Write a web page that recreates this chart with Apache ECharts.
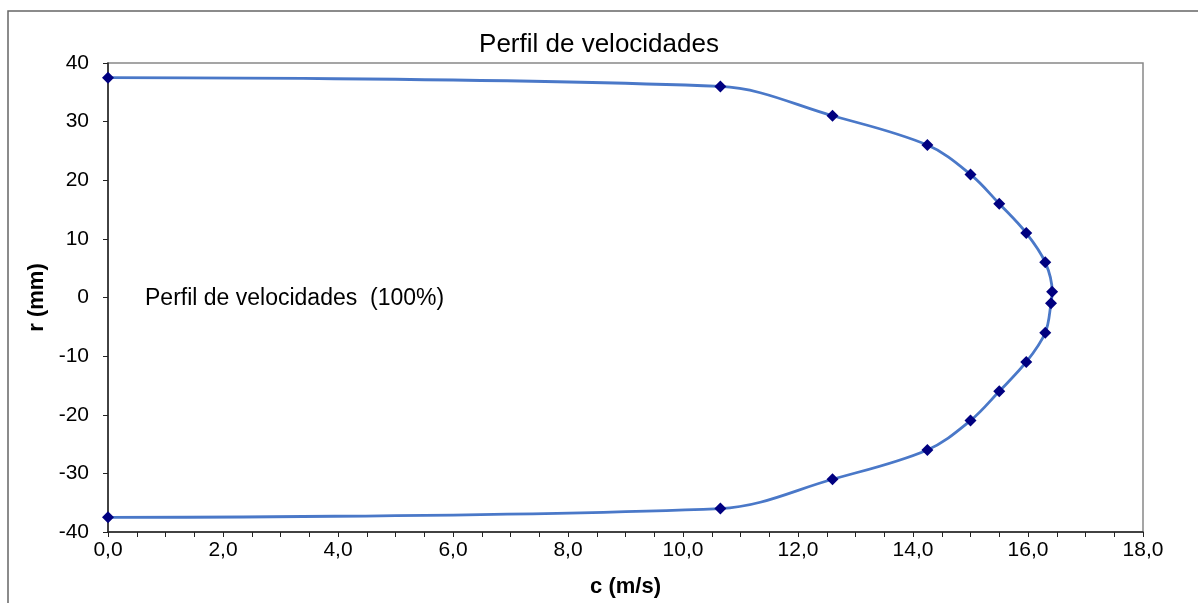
<!DOCTYPE html>
<html>
<head>
<meta charset="utf-8">
<script src="https://cdn.jsdelivr.net/npm/echarts@6/dist/echarts.min.js"></script>
<style>
  html, body { margin: 0; padding: 0; background: #fff; }
  #chart { width: 1198px; height: 603px; }
</style>
</head>
<body>
<div id="chart"></div>
<script>
// velocity profile
var cValues = [0.0, 10.65, 12.6, 14.25, 15.0, 15.5, 15.97, 16.3, 16.42, 16.4, 16.3, 15.97, 15.5, 15.0, 14.25, 12.6, 10.65, 0.0];
var rValues = [37.5, 36, 31, 26, 21, 16, 11, 6, 1, -1, -6, -11, -16, -21, -26, -31, -36, -37.5];
var xTicks = [0, 2, 4, 6, 8, 10, 12, 14, 16, 18];
var yTicks = [-40, -30, -20, -10, 0, 10, 20, 30, 40];

var font = 'Liberation Sans, Arial, sans-serif';
var chart = echarts.init(document.getElementById('chart'));

var points = cValues.map(function (c, i) { return [c, rValues[i]]; });

var option = {
  animation: false,
  title: {
    text: 'Perfil de velocidades',
    left: 'center',
    top: 27,
    textStyle: { fontFamily: font, fontSize: 26, fontWeight: 'normal', color: '#000' }
  },
  grid: {
    left: 108, right: 55, top: 63, bottom: 70,
    show: true, borderColor: '#888', borderWidth: 1.5, backgroundColor: '#fff'
  },
  graphic: [
    {
      type: 'rect',
      shape: { x: 8, y: 11, width: 1400, height: 800 },
      style: { fill: 'none', stroke: '#666', lineWidth: 1.5 },
      silent: true
    },
    {
      type: 'text',
      left: 145, top: 287,
      style: { text: 'Perfil de velocidades  (100%)', font: '23px ' + font, fill: '#000' }
    }
  ],
  xAxis: {
    type: 'value',
    min: xTicks[0], max: xTicks[xTicks.length - 1], interval: 2,
    name: 'c (m/s)',
    nameLocation: 'middle',
    nameGap: 44,
    nameTextStyle: { fontFamily: font, fontSize: 22, fontWeight: 'bold', color: '#000' },
    axisLine: { onZero: false, lineStyle: { color: '#222', width: 1.5 } },
    axisTick: { show: true, length: 5, lineStyle: { color: '#222' } },
    minorTick: { show: true, splitNumber: 4, length: 5, lineStyle: { color: '#222' } },
    splitLine: { show: false },
    axisLabel: {
      margin: 8, fontFamily: font, fontSize: 21, color: '#000',
      formatter: function (v) { return v.toFixed(1).replace('.', ','); }
    }
  },
  yAxis: {
    type: 'value',
    min: yTicks[0], max: yTicks[yTicks.length - 1], interval: 10,
    name: 'r (mm)',
    nameLocation: 'middle',
    nameGap: 56,
    nameTextStyle: { fontFamily: font, fontSize: 22, fontWeight: 'bold', color: '#000' },
    axisLine: { show: true, onZero: false, lineStyle: { color: '#222', width: 1.5 } },
    axisTick: { show: true, length: 5, lineStyle: { color: '#222' } },
    splitLine: { show: false },
    axisLabel: { margin: 19, fontFamily: font, fontSize: 21, color: '#000' }
  },
  series: [{
    type: 'line',
    data: points,
    smooth: 0.35,
    symbol: 'diamond',
    symbolSize: 12,
    itemStyle: { color: '#000080' },
    lineStyle: { color: '#4a78c8', width: 2.8 }
  }]
};

chart.setOption(option);
</script>
</body>
</html>
